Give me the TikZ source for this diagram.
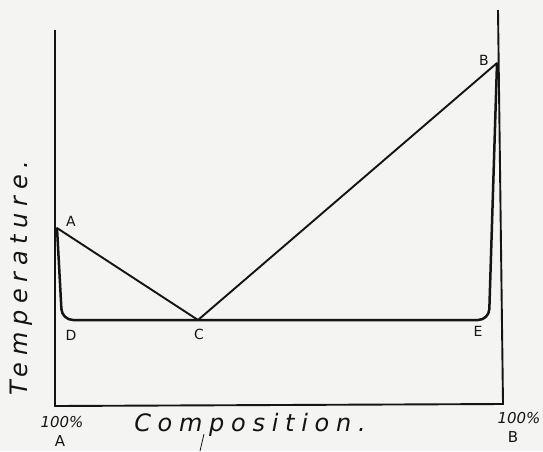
\documentclass[tikz,border=0pt]{standalone}
\usepackage{fontspec}
\setsansfont{DejaVu Sans}
\usepackage{tikz}
\usetikzlibrary{positioning}
\definecolor{inkblack}{RGB}{20,20,20}
\definecolor{paperwhite}{RGB}{244,244,242}
\tikzset{
  axisline/.style={draw=inkblack,line width=1.9pt},
  liquidus/.style={draw=inkblack,line width=1.9pt,line cap=round},
  solidus/.style={draw=inkblack,line width=2.5pt,rounded corners=11pt,line join=round},
  ptlabel/.style={font=\sffamily\fontsize{14}{14}\selectfont,text=inkblack,inner sep=0pt},
  axislabel/.style={font=\sffamily\itshape\addfontfeature{LetterSpace=28}\fontsize{24}{24}\selectfont,
    text=inkblack,inner sep=0pt},
  pctlabel/.style={font=\sffamily\itshape\fontsize{15}{15}\selectfont,text=inkblack,inner sep=0pt}
}

\begin{document}
\begin{tikzpicture}[x=1pt,y=-1pt]
  \useasboundingbox[fill=paperwhite] (0,0) rectangle (543,451);
  % axes
  \draw[axisline] (55,30) -- (55,406) -- (503,404) -- (498,10);
  % key points
  \coordinate (ptA) at (57,228);
  \coordinate (ptB) at (497,63);
  \coordinate (ptC) at (198,320);
  \coordinate (ptD) at (62,320);
  \coordinate (ptE) at (489,320);
  % liquidus
  \draw[liquidus] (ptA) -- (ptC) -- (ptB);
  % solidus
  \draw[solidus] (ptA) -- (ptD) -- (ptE) -- (ptB);
  % point labels
  \node[ptlabel] (labA) at (71,221) {A};
  \node[ptlabel] (labB) at (484,60) {B};
  \node[ptlabel] (labC) at (199,334) {C};
  \node[ptlabel] (labD) at (71,335) {D};
  \node[ptlabel] (labE) at (478,331) {E};
  % axis labels
  \node[axislabel,rotate=90] (temp) at (21,278) {Temperature.};
  \node[axislabel] (comp) at (250,425) {Composition.};
  \draw[inkblack,line width=0.8pt] (200,451) -- (204,434);
  \node[pctlabel] (pctA) at (62,422) {100\%};
  \node[ptlabel,font=\sffamily\fontsize{15}{15}\selectfont] (botA) at (60,441) {A};
  \node[pctlabel] (pctB) at (519,418) {100\%};
  \node[ptlabel,font=\sffamily\fontsize{15}{15}\selectfont] (botB) at (513,437) {B};
\end{tikzpicture}
\end{document}
